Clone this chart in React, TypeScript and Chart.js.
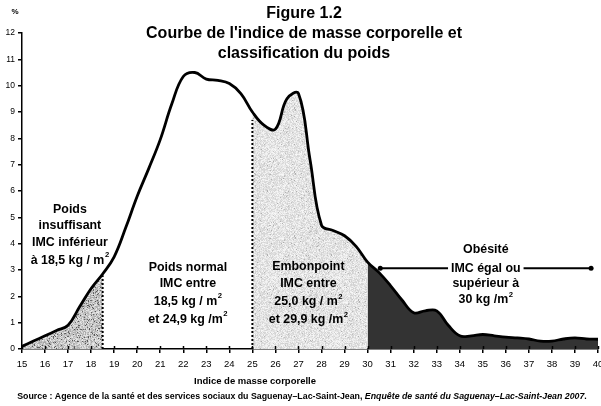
import React, { useEffect, useRef } from "react";
import { Chart, registerables } from "chart.js";

Chart.register(...registerables);

// ---- Data ----
const bmiValues: number[] = [
  15, 15.5, 16, 16.5, 17, 17.5, 18, 18.5, 19, 19.5, 20, 20.5, 21, 21.5, 22, 22.5,
  23, 23.5, 24, 24.5, 25, 25.5, 26, 26.5, 27, 27.5, 28, 28.5, 29, 29.5, 30, 30.5,
  31, 31.5, 32, 32.5, 33, 33.5, 34, 34.5, 35, 35.5, 36, 36.5, 37, 37.5, 38, 38.5,
  39, 39.5, 40,
];
const percentValues: number[] = [
  0.1, 0.3, 0.5, 0.7, 0.9, 1.6, 2.3, 2.85, 3.5, 4.6, 5.8, 6.85, 7.95, 9.3, 10.35, 10.5,
  10.25, 10.2, 10.08, 9.7, 9.0, 8.5, 8.35, 9.5, 9.7, 7.2, 4.7, 4.5, 4.3, 3.9, 3.3, 2.9,
  2.4, 1.85, 1.38, 1.45, 1.45, 0.9, 0.5, 0.5, 0.55, 0.5, 0.45, 0.42, 0.38, 0.3, 0.3, 0.38,
  0.42, 0.38, 0.37,
];
const underweightRange = [15, 18.5];
const overweightRange = [25, 30];
const obeseRange = [30, 40];
const dottedLineAt18 = [18.5, 2.8];
const dottedLineAt25 = [25, 8.7];
const obesityArrowX = [30.55, 39.7];
const obesityArrowY = 3.07;
const xTickMin = 15;
const xTickMax = 40;
const yTickMin = 0;
const yTickMax = 12;

const titleLines = ["Figure 1.2", "Courbe de l'indice de masse corporelle et", "classification du poids"];
const yUnitLabel = "%";
const xAxisTitle = "Indice de masse corporelle";
const sourceParts = [
  { t: "Source : Agence de la santé et des services sociaux du Saguenay–Lac-Saint-Jean, ", it: false },
  { t: "Enquête de santé du Saguenay–Lac-Saint-Jean 2007", it: true },
  { t: ".", it: false },
];
const underweightLabel = [["Poids"], ["insuffisant"], ["IMC inférieur"], ["à 18,5 kg / m", "2"]];
const normalLabel = [["Poids normal"], ["IMC entre"], ["18,5 kg / m", "2"], ["et 24,9 kg /m", "2"]];
const overweightLabel = [["Embonpoint"], ["IMC entre"], ["25,0 kg / m", "2"], ["et 29,9 kg /m", "2"]];
const obeseLabel = [["Obésité"], ["IMC égal ou"], ["supérieur à"], ["30 kg /m", "2"]];

const FONT = "Arial, 'Liberation Sans', Helvetica, sans-serif";

function pointsIn(range: number[]) {
  const pts: { x: number; y: number }[] = [];
  bmiValues.forEach((x, i) => {
    if (x >= range[0] && x <= range[1]) pts.push({ x, y: percentValues[i] });
  });
  return pts;
}

function makeNoise(base: number, spread: number, darkProb: number, darkLevel: number) {
  const c = document.createElement("canvas");
  c.width = 64;
  c.height = 64;
  const g = c.getContext("2d")!;
  const img = g.createImageData(64, 64);
  let s = 12345;
  const rnd = () => {
    s = (s * 1103515245 + 12345) & 0x7fffffff;
    return s / 0x7fffffff;
  };
  for (let i = 0; i < 64 * 64; i++) {
    let v = base + (rnd() - 0.5) * spread;
    if (rnd() < darkProb) v = darkLevel + rnd() * 30;
    v = Math.max(0, Math.min(255, v));
    img.data[i * 4] = v;
    img.data[i * 4 + 1] = v;
    img.data[i * 4 + 2] = v;
    img.data[i * 4 + 3] = 255;
  }
  g.putImageData(img, 0, 0);
  return g.createPattern(c, "repeat")!;
}

function drawRichLine(
  ctx: CanvasRenderingContext2D,
  parts: string[],
  cx: number,
  y: number,
  size: number,
  whiteBg = false
) {
  ctx.font = `bold ${size}px ${FONT}`;
  const mainW = ctx.measureText(parts[0]).width;
  let supW = 0;
  if (parts[1]) {
    ctx.font = `bold ${size * 0.62}px ${FONT}`;
    supW = ctx.measureText(parts[1]).width + 0.5;
  }
  const total = mainW + supW;
  const x0 = cx - total / 2;
  if (whiteBg) {
    ctx.fillStyle = "#fff";
    ctx.fillRect(x0 - 3, y - size / 2 - 1, total + 6, size + 2);
  }
  ctx.fillStyle = "#000";
  ctx.textAlign = "left";
  ctx.textBaseline = "middle";
  ctx.font = `bold ${size}px ${FONT}`;
  ctx.fillText(parts[0], x0, y);
  if (parts[1]) {
    ctx.font = `bold ${size * 0.62}px ${FONT}`;
    ctx.fillText(parts[1], x0 + mainW + 0.5, y - size * 0.42);
  }
}

const annotationPlugin = {
  id: "annotations",
  afterDatasetsDraw(chart: any) {
    const ctx: CanvasRenderingContext2D = chart.ctx;
    const xs = chart.scales.x;
    const ys = chart.scales.y;
    ctx.save();
    // small upward ticks on x axis
    ctx.strokeStyle = "#000";
    ctx.lineWidth = 1.5;
    for (let v = xTickMin; v <= xTickMax; v++) {
      const px = Math.round(xs.getPixelForValue(v)) + 0.5;
      ctx.beginPath();
      ctx.moveTo(px, ys.bottom);
      ctx.lineTo(px, ys.bottom - 3);
      ctx.stroke();
    }
    const blocks: [string[][], number, number, number[], number][] = [
      [underweightLabel, xs.getPixelForValue(17.08), 209.5, [0, 16, 33, 51], -1],
      [normalLabel, xs.getPixelForValue(22.2), 267.5, [0, 16, 34, 52], -1],
      [overweightLabel, xs.getPixelForValue(27.43), 267, [0, 16.5, 35, 53], -1],
      [obeseLabel, xs.getPixelForValue(35.13), 250, [0, 18.3, 34, 50], 1],
    ];
    blocks.forEach(([lines, cx, y0, offs, bgLine]) => {
      lines.forEach((parts, i) => {
        drawRichLine(ctx, parts, cx, y0 + offs[i], 12.4, i === bgLine);
      });
    });
    ctx.restore();
  },
  afterDraw(chart: any) {
    const ctx: CanvasRenderingContext2D = chart.ctx;
    ctx.save();
    ctx.fillStyle = "#000";
    ctx.textAlign = "center";
    ctx.textBaseline = "middle";
    ctx.font = `bold 16px ${FONT}`;
    titleLines.forEach((t, i) => ctx.fillText(t, 304, 13.5 + i * 20));
    ctx.font = `bold 8px ${FONT}`;
    ctx.fillText(yUnitLabel, 15, 12);
    ctx.font = `bold 9.5px ${FONT}`;
    ctx.fillText(xAxisTitle, 255, 381);
    // source line
    ctx.textAlign = "left";
    const fs = 8.8;
    let w = 0;
    sourceParts.forEach((p) => {
      ctx.font = `${p.it ? "italic " : ""}bold ${fs}px ${FONT}`;
      w += ctx.measureText(p.t).width;
    });
    let x = 302 - w / 2;
    sourceParts.forEach((p) => {
      ctx.font = `${p.it ? "italic " : ""}bold ${fs}px ${FONT}`;
      ctx.fillText(p.t, x, 396.5);
      x += ctx.measureText(p.t).width;
    });
    ctx.restore();
  },
};

export default function App() {
  const ref = useRef<HTMLCanvasElement>(null);
  useEffect(() => {
    if (!ref.current) return;
    const underPattern = makeNoise(200, 70, 0.1, 80);
    const overPattern = makeNoise(228, 40, 0.03, 170);
    const mainData = bmiValues.map((x, i) => ({ x, y: percentValues[i] }));
    const chart = new Chart(ref.current, {
      type: "line",
      data: {
        datasets: [
          {
            data: mainData,
            borderColor: "#000",
            borderWidth: 2.8,
            pointRadius: 0,
            tension: 0.4,
            fill: false,
            order: 0,
          },
          {
            data: [
              { x: obesityArrowX[0], y: obesityArrowY },
              { x: obesityArrowX[1], y: obesityArrowY },
            ],
            borderColor: "#000",
            borderWidth: 2,
            pointRadius: 2.5,
            pointBackgroundColor: "#000",
            pointBorderWidth: 0,
            fill: false,
            order: 1,
          },
          {
            data: [
              { x: dottedLineAt18[0], y: 0 },
              { x: dottedLineAt18[0], y: dottedLineAt18[1] },
            ],
            borderColor: "#000",
            borderWidth: 2,
            borderDash: [2, 2],
            pointRadius: 0,
            fill: false,
            order: 1,
          },
          {
            data: [
              { x: dottedLineAt25[0], y: 0 },
              { x: dottedLineAt25[0], y: dottedLineAt25[1] },
            ],
            borderColor: "#000",
            borderWidth: 2,
            borderDash: [2, 2],
            pointRadius: 0,
            fill: false,
            order: 1,
          },
          {
            data: pointsIn(underweightRange),
            borderWidth: 0,
            borderColor: "rgba(0,0,0,0)",
            backgroundColor: underPattern as any,
            pointRadius: 0,
            tension: 0.4,
            fill: "origin",
            order: 3,
          },
          {
            data: pointsIn(overweightRange),
            borderWidth: 0,
            borderColor: "rgba(0,0,0,0)",
            backgroundColor: overPattern as any,
            pointRadius: 0,
            tension: 0.4,
            fill: "origin",
            order: 3,
          },
          {
            data: pointsIn(obeseRange),
            borderWidth: 0,
            borderColor: "rgba(0,0,0,0)",
            backgroundColor: "#333333",
            pointRadius: 0,
            tension: 0.4,
            fill: "origin",
            order: 2,
          },
        ],
      },
      options: {
        responsive: false,
        animation: false,
        events: [],
        layout: { padding: { top: 33, right: 3, left: 0, bottom: 0 }, autoPadding: false },
        plugins: {
          legend: { display: false },
          title: { display: false },
          tooltip: { enabled: false },
        },
        scales: {
          x: {
            type: "linear",
            min: xTickMin,
            max: xTickMax,
            afterFit: (s: any) => {
              s.height = 57;
              s.paddingLeft = 0;
              s.paddingRight = 0;
            },
            grid: { display: true, drawOnChartArea: false, tickLength: 4, color: "#000", lineWidth: 1.5 },
            border: { display: true, color: "#000", width: 1.5 },
            ticks: {
              stepSize: 1,
              autoSkip: false,
              maxRotation: 0,
              padding: 6,
              color: "#000",
              font: { family: FONT, size: 9.5 },
            },
          },
          y: {
            type: "linear",
            min: yTickMin,
            max: yTickMax,
            afterFit: (s: any) => {
              s.width = 22;
              s.paddingTop = 0;
              s.paddingBottom = 0;
            },
            grid: { display: true, drawOnChartArea: false, tickLength: 4, color: "#000", lineWidth: 1.5 },
            border: { display: true, color: "#000", width: 1.5 },
            ticks: {
              stepSize: 1,
              padding: 3,
              color: "#000",
              font: { family: FONT, size: 8.5 },
            },
          },
        },
      },
      plugins: [annotationPlugin],
    });
    return () => chart.destroy();
  }, []);
  return (
    <div style={{ position: "absolute", left: 0, top: 0, width: 601, height: 406, background: "#fff" }}>
      <canvas ref={ref} width={601} height={406} style={{ display: "block" }} />
    </div>
  );
}
